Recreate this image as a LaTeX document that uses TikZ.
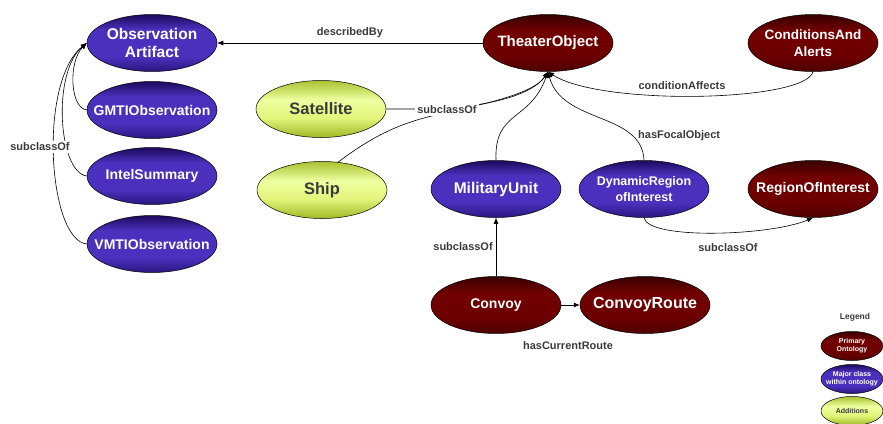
\documentclass[tikz,border=0pt]{standalone}
\usepackage{fontspec}
\setmainfont{Liberation Sans}
\usetikzlibrary{arrows.meta,shapes.geometric}

\definecolor{labelgray}{HTML}{3A3A3A}
\pgfdeclareverticalshading{redsh}{100bp}{color(0bp)=(red!30!black); color(25bp)=(red!30!black);
	color(38bp)=(red!42!black); color(60bp)=(red!45!black); color(75bp)=(red!22!black); color(100bp)=(red!22!black)}
\definecolor{bluelo}{HTML}{2A1680}
\definecolor{bluemid}{HTML}{4A30BC}
\definecolor{bluehi}{HTML}{1C0A5C}
\pgfdeclareverticalshading{bluesh}{100bp}{color(0bp)=(bluelo); color(25bp)=(bluelo);
	color(38bp)=(bluemid); color(62bp)=(bluemid); color(75bp)=(bluehi); color(100bp)=(bluehi)}
\definecolor{greenlo}{HTML}{A0B826}
\definecolor{greenmid}{HTML}{E2F47A}
\definecolor{greenhi}{HTML}{EEFFA0}
\definecolor{greentop}{HTML}{AAC230}
\pgfdeclareverticalshading{greensh}{100bp}{color(0bp)=(greenlo); color(25bp)=(greenlo);
	color(42bp)=(greenmid); color(58bp)=(greenhi); color(75bp)=(greentop); color(100bp)=(greentop)}

\newcommand{\cl}[1]{\makebox[0pt]{#1}}

\begin{document}
\begin{tikzpicture}[x=1pt,y=-1pt,
	cls/.style={ellipse,draw=black,line width=0.5pt,minimum width=130pt,minimum height=57pt,inner sep=0pt,align=center,font=\bfseries\fontsize{14}{17}\selectfont},
	prim/.style={cls,shading=redsh,text=white},
	major/.style={cls,shading=bluesh,text=white},
	addn/.style={cls,shading=greensh,text=labelgray},
	legbox/.style={minimum width=62pt,minimum height=29pt,font=\bfseries\fontsize{7}{8}\selectfont},
	rel/.style={font=\bfseries\fontsize{11}{13}\selectfont,text=labelgray,inner sep=1pt},
	link/.style={line width=0.6pt,-{Latex[length=6pt,width=5pt]}}]

	\useasboundingbox (0,0) rectangle (883,423);

	\node[major,font=\bfseries\fontsize{15.5}{18}\selectfont] (oa) at (152,43) {\cl{Observation}\\\cl{Artifact}};
	\node[major] (gmti) at (152,110) {\cl{GMTIObservation}};
	\node[major] (intel) at (152,176) {\cl{IntelSummary}};
	\node[major] (vmti) at (152,244) {\cl{VMTIObservation}};

	\node[addn,font=\bfseries\fontsize{16.5}{19}\selectfont] (sat) at (321,109) {\cl{Satellite}};
	\node[addn,font=\bfseries\fontsize{16.5}{19}\selectfont] (ship) at (322,190) {\cl{Ship}};

	\node[prim,font=\bfseries\fontsize{15}{18}\selectfont] (to) at (548,43) {\cl{TheaterObject}};
	\node[prim,font=\bfseries\fontsize{13.5}{17}\selectfont] (ca) at (813,43) {\cl{ConditionsAnd}\\\cl{Alerts}};

	\node[major,font=\bfseries\fontsize{15.5}{18}\selectfont] (mu) at (496,189) {\cl{MilitaryUnit}};
	\node[major,font=\bfseries\fontsize{12.5}{16}\selectfont] (dr) at (644,189) {\cl{DynamicRegion}\\\cl{ofInterest}};
	\node[prim] (roi) at (813,189) {\cl{RegionOfInterest}};

	\node[prim] (cv) at (496,305) {\cl{Convoy}};
	\node[prim,font=\bfseries\fontsize{16}{19}\selectfont] (cr) at (645,305) {\cl{ConvoyRoute}};

	\draw[link] (to.west) -- node[rel,above=4pt] {describedBy} (oa.east);

	\draw[link] (gmti.west) .. controls (70,108) and (68,62) .. (oa.west);
	\draw[link] (intel.west) .. controls (58,172) and (52,72) .. (oa.west);
	\draw[link] (vmti.west) .. controls (48,240) and (38,82) .. (oa.west);
	\node[rel,fill=white,inner sep=2pt] (subl) at (40,147) {subclassOf};

	\draw[link] (sat.east) -- (410,109) .. controls (480,110) and (532,96) .. (to.south);
	\draw[link] (ship.60) .. controls (378,132) and (405,122) .. (440,114) .. controls (495,102) and (535,92) .. (to.south);
	\node[rel,fill=white,inner sep=2pt] (subm) at (447,110) {subclassOf};

	\draw[link] (mu.north) .. controls (494,110) and (530,122) .. (to.south);
	\draw[link] (dr.north) .. controls (642,112) and (562,124) .. (to.south)
		node[rel,pos=0.22,anchor=west,xshift=4pt] (hfo) {hasFocalObject};
	\draw[link] (ca.south) .. controls (805,102) and (600,106) .. (to.south);
	\node[rel] (caff) at (682,86) {conditionAffects};

	\draw[link] (dr.south) .. controls (648,240) and (770,236) .. (roi.south);
	\node[rel] (subr) at (728,248) {subclassOf};

	\draw[link] (cv.north) -- node[rel,left=2pt] (subc) {subclassOf} (mu.south);
	\draw[link] (cv.east) -- (cr.west);
	\node[rel] (hcr) at (568,346) {hasCurrentRoute};

	\node[font=\bfseries\fontsize{8.5}{10}\selectfont,text=labelgray] (leg) at (855,317) {Legend};
	\node[prim,legbox] (legp) at (852,346) {\cl{Primary}\\\cl{Ontology}};
	\node[major,legbox] (legm) at (852,379) {\cl{Major class}\\\cl{within ontology}};
	\node[addn,legbox] (lega) at (852,411) {\cl{Additions}};

\end{tikzpicture}
\end{document}
